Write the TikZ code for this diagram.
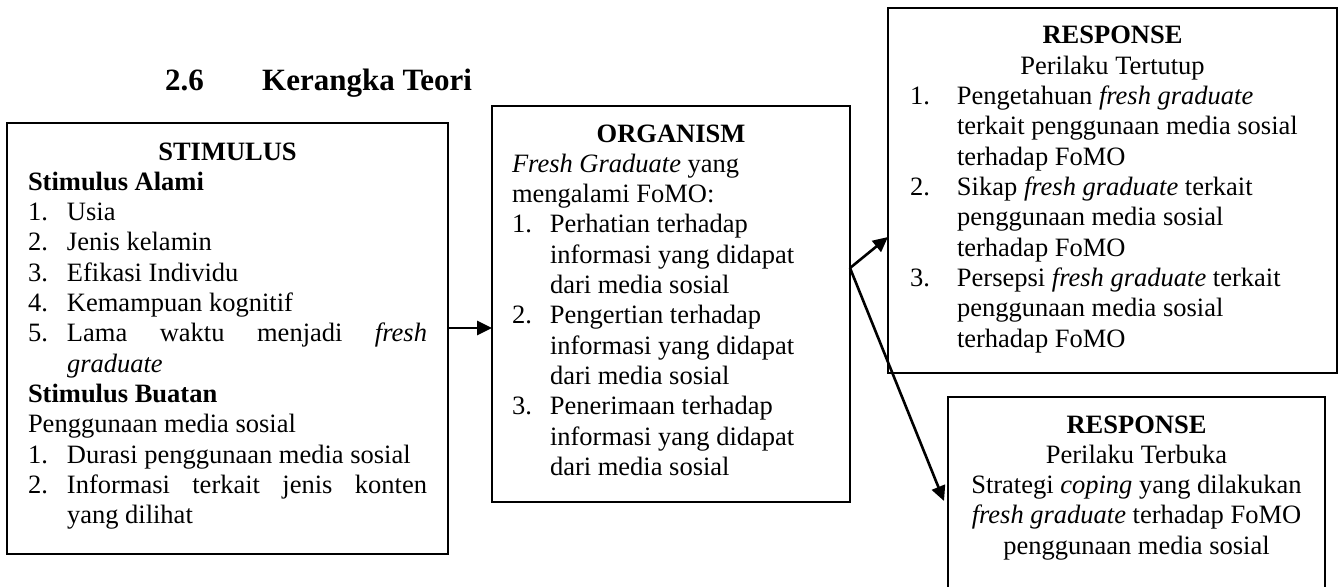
\documentclass[tikz,border=0pt]{standalone}
\usepackage{fontspec}
\setmainfont{Liberation Serif}
\usetikzlibrary{arrows.meta}
\tikzset{
  box/.style={draw, line width=1.5pt, anchor=north west, inner sep=0pt, outer sep=0pt},
  txt/.style={anchor=base west, inner sep=0pt, outer sep=0pt},
  arr/.style={line width=2.6pt, -{Triangle[length=15pt,width=14pt]}},
  ttl/.style={anchor=base west, inner sep=0pt, font=\fontsize{31}{36}\selectfont\bfseries},
}
\newcommand{\bodyfont}{\fontsize{26.5}{30.3}\selectfont}
\newcommand{\itmS}[1]{\makebox[39pt][l]{#1}}
\newcommand{\indS}{\hspace*{39pt}}
\newcommand{\itmO}[1]{\makebox[38pt][l]{#1}}
\newcommand{\indO}{\hspace*{38pt}}
\newcommand{\itmR}[1]{\makebox[47pt][l]{#1}}
\newcommand{\indR}{\hspace*{47pt}}
\begin{document}
\begin{tikzpicture}[x=1pt,y=1pt]
\useasboundingbox (0,0) rectangle (1340,-586);
\clip (0,0) rectangle (1340,-586);
\fill[white] (0,0) rectangle (1340,-586);

% title
\node[ttl] (num) at (165,-90) {2.6};
\node[ttl] (title) at (262,-90) {Kerangka Teori};

% boxes
\node[box, minimum width=441pt, minimum height=431pt] (stim) at (7,-123) {};
\node[box, minimum width=358pt, minimum height=396pt] (org) at (492,-106) {};
\node[box, minimum width=449pt, minimum height=365pt] (r1) at (888,-8) {};
\node[box, minimum width=377pt, minimum height=220pt] (r2) at (948,-397) {};

% stimulus text
\node[txt] (stimtxt) at (28,-160) {\parbox[t]{399pt}{\bodyfont\parindent=0pt
\makebox[\linewidth]{\bfseries STIMULUS}\\
\textbf{Stimulus Alami}\\
\itmS{1.}Usia\\
\itmS{2.}Jenis kelamin\\
\itmS{3.}Efikasi Individu\\
\itmS{4.}Kemampuan kognitif\\
\itmS{5.}\makebox[360pt][s]{Lama\hfill waktu\hfill menjadi\hfill\textit{fresh}}\\
\indS\textit{graduate}\\
\textbf{Stimulus Buatan}\\
Penggunaan media sosial\\
\itmS{1.}Durasi penggunaan media sosial\\
\itmS{2.}\makebox[360pt][s]{Informasi\hfill terkait\hfill jenis\hfill konten}\\
\indS yang dilihat}};

% organism text
\node[txt] (orgtxt) at (512,-142) {\parbox[t]{318pt}{\bodyfont\parindent=0pt
\makebox[\linewidth]{\bfseries ORGANISM}\\
\textit{Fresh Graduate} yang\\
mengalami FoMO:\\
\itmO{1.}Perhatian terhadap\\
\indO informasi yang didapat\\
\indO dari media sosial\\
\itmO{2.}Pengertian terhadap\\
\indO informasi yang didapat\\
\indO dari media sosial\\
\itmO{3.}Penerimaan terhadap\\
\indO informasi yang didapat\\
\indO dari media sosial}};

% response 1 text
\node[txt] (r1txt) at (910,-44) {\parbox[t]{405pt}{\bodyfont\parindent=0pt
\makebox[\linewidth]{\bfseries RESPONSE}\\
\makebox[\linewidth]{Perilaku Tertutup}\\
\itmR{1.}Pengetahuan \textit{fresh graduate}\\
\indR terkait penggunaan media sosial\\
\indR terhadap FoMO\\
\itmR{2.}Sikap \textit{fresh graduate} terkait\\
\indR penggunaan media sosial\\
\indR terhadap FoMO\\
\itmR{3.}Persepsi \textit{fresh graduate} terkait\\
\indR penggunaan media sosial\\
\indR terhadap FoMO}};

% response 2 text
\node[anchor=base, inner sep=0pt] (r2txt) at (1136.5,-433) {\parbox[t]{370pt}{\bodyfont\centering
\textbf{RESPONSE}\\
Perilaku Terbuka\\
Strategi \textit{coping} yang dilakukan\\
\textit{fresh graduate} terhadap FoMO\\
penggunaan media sosial\par}};

% connectors
\draw[arr] (stim.east |- 0,-328) -- (org.west |- 0,-328);
\coordinate (j) at (org.east |- 0,-268);
\draw[arr] (j) -- (r1.west |- 0,-237);
\draw[arr] (j) -- ([xshift=-4pt]r2.west |- 0,-501);
\end{tikzpicture}
\end{document}
